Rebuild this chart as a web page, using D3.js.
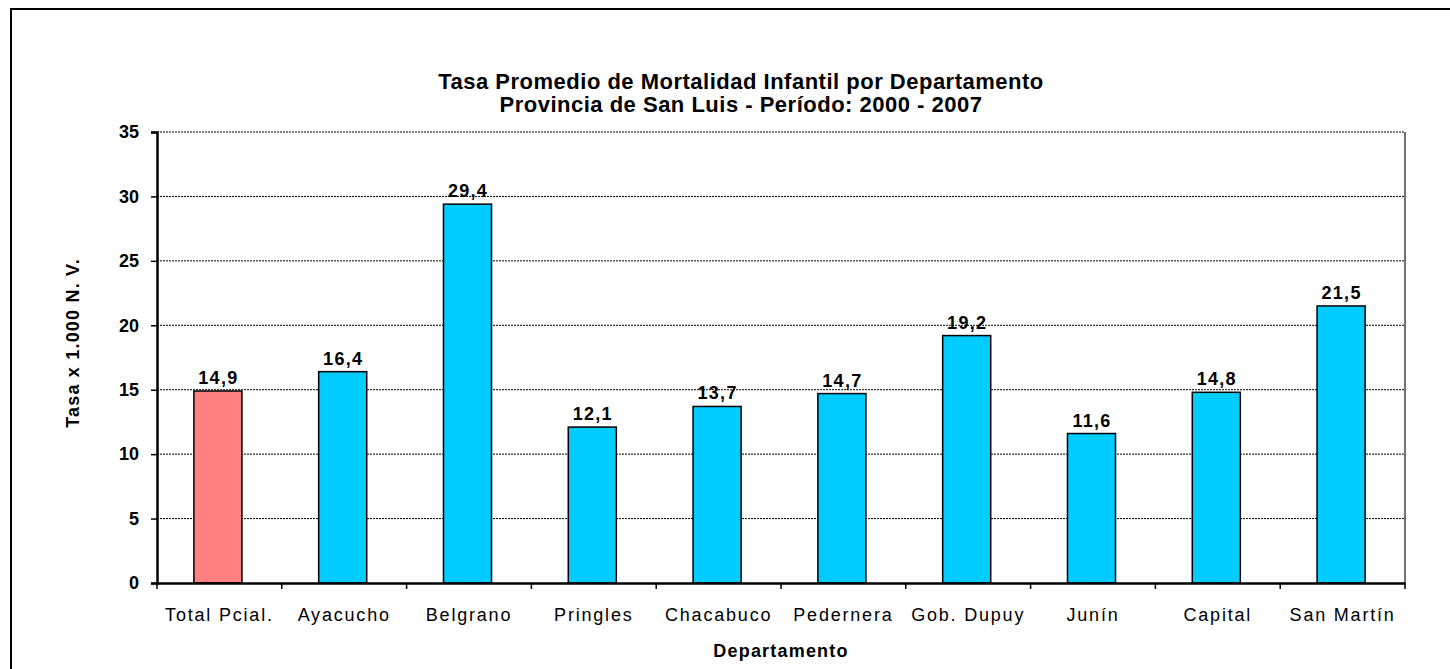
<!DOCTYPE html>
<html>
<head>
<meta charset="utf-8">
<script src="https://cdn.jsdelivr.net/npm/d3@7"></script>
<style>
  body { margin: 0; background: #fff; }
  svg { display: block; font-family: "Liberation Sans", Arial, sans-serif; }
</style>
</head>
<body>
<svg id="chart"></svg>
<script>
const departamentos = ["Total Pcial.", "Ayacucho", "Belgrano", "Pringles", "Chacabuco",
  "Pedernera", "Gob. Dupuy", "Junín", "Capital", "San Martín"];
const tasas = [14.9, 16.4, 29.4, 12.1, 13.7, 14.7, 19.2, 11.6, 14.8, 21.5];
const yTicks = [0, 5, 10, 15, 20, 25, 30, 35];
const titleLines = ["Tasa Promedio de Mortalidad Infantil por Departamento",
  "Provincia de San Luis - Período: 2000 - 2007"];

const W = 1450, H = 669;
const margin = { top: 132, right: 45, bottom: 86, left: 157 };
const width = W - margin.left - margin.right,
      height = H - margin.top - margin.bottom;

const data = departamentos.map((d, i) => ({ name: d, value: tasas[i] }));

const svg = d3.select("#chart")
    .attr("width", W)
    .attr("height", H);

// outer frame (only top/left visible in the original crop)
svg.append("rect")
    .attr("x", 11).attr("y", 9)
    .attr("width", W + 20).attr("height", H + 20)
    .attr("fill", "none")
    .attr("stroke", "#000")
    .attr("stroke-width", 2);

const g = svg.append("g")
    .attr("transform", `translate(${margin.left}, ${margin.top})`);

const x = d3.scaleBand()
    .domain(departamentos)
    .range([0, width]);

const y = d3.scaleLinear()
    .domain([0, 35])
    .range([height, 0]);

// gridlines
g.append("g")
    .selectAll("line")
    .data(yTicks.filter(t => t > 0))
    .join("line")
    .attr("x1", 0).attr("x2", width)
    .attr("y1", d => y(d)).attr("y2", d => y(d))
    .attr("stroke", "#000")
    .attr("stroke-width", 1)
    .attr("stroke-dasharray", "2,1");

// right border of plot area
g.append("line")
    .attr("x1", width).attr("x2", width)
    .attr("y1", 0).attr("y2", height)
    .attr("stroke", "#444")
    .attr("stroke-width", 1.5);

// bars
const barW = x.bandwidth() * 0.385;
g.append("g")
    .selectAll("rect")
    .data(data)
    .join("rect")
    .attr("x", d => x(d.name) + (x.bandwidth() - barW) / 2 - 1.5)
    .attr("y", d => y(d.value))
    .attr("width", barW)
    .attr("height", d => height - y(d.value))
    .attr("fill", (d, i) => i === 0 ? "#FF8080" : "#00CCFF")
    .attr("stroke", "#000")
    .attr("stroke-width", 1.5);

// value labels
g.append("g")
    .selectAll("text")
    .data(data)
    .join("text")
    .attr("x", d => x(d.name) + x.bandwidth() / 2 - 1)
    .attr("y", d => y(d.value) - 7)
    .attr("text-anchor", "middle")
    .style("font-size", "18px")
    .style("font-weight", "bold")
    .style("letter-spacing", "1.3px")
    .text(d => d3.format(".1f")(d.value).replace(".", ","));

// y axis
const yAxis = g.append("g")
    .call(d3.axisLeft(y).tickValues(yTicks).tickSize(6).tickPadding(12));
yAxis.select(".domain").attr("stroke-width", 2.5);
yAxis.selectAll(".tick line").attr("stroke-width", 1.5);
yAxis.selectAll("text")
    .style("font-size", "18px")
    .style("font-weight", "bold")
    .style("font-family", "Liberation Sans, Arial, sans-serif")
    .attr("fill", "#000");

// x axis with ticks at band boundaries
const xAxis = g.append("g")
    .attr("transform", `translate(0, ${height})`)
    .call(d3.axisBottom(x).tickSize(0).tickPadding(25));
xAxis.select(".domain").attr("stroke-width", 2.5);
xAxis.selectAll("text")
    .style("font-size", "18px")
    .style("letter-spacing", "1.8px")
    .style("font-family", "Liberation Sans, Arial, sans-serif")
    .attr("fill", "#000");

g.append("g")
    .attr("transform", `translate(0, ${height})`)
    .selectAll("line")
    .data(departamentos.map(d => x(d)).concat([width]))
    .join("line")
    .attr("x1", d => d).attr("x2", d => d)
    .attr("y1", 0).attr("y2", 6)
    .attr("stroke", "#000")
    .attr("stroke-width", 1.5);

// titles
svg.append("g")
    .selectAll("text")
    .data(titleLines)
    .join("text")
    .attr("x", 741)
    .attr("y", (d, i) => 89 + i * 23)
    .attr("text-anchor", "middle")
    .style("font-size", "22px")
    .style("font-weight", "bold")
    .style("letter-spacing", "0.5px")
    .text(d => d);

svg.append("text")
    .attr("x", margin.left + width / 2)
    .attr("y", 657)
    .attr("text-anchor", "middle")
    .style("font-size", "18px")
    .style("font-weight", "bold")
    .style("letter-spacing", "1.2px")
    .text("Departamento");

svg.append("text")
    .attr("transform", "translate(79, 343) rotate(-90)")
    .attr("text-anchor", "middle")
    .style("font-size", "18px")
    .style("font-weight", "bold")
    .style("letter-spacing", "1.2px")
    .text("Tasa x 1.000 N. V.");
</script>
</body>
</html>
